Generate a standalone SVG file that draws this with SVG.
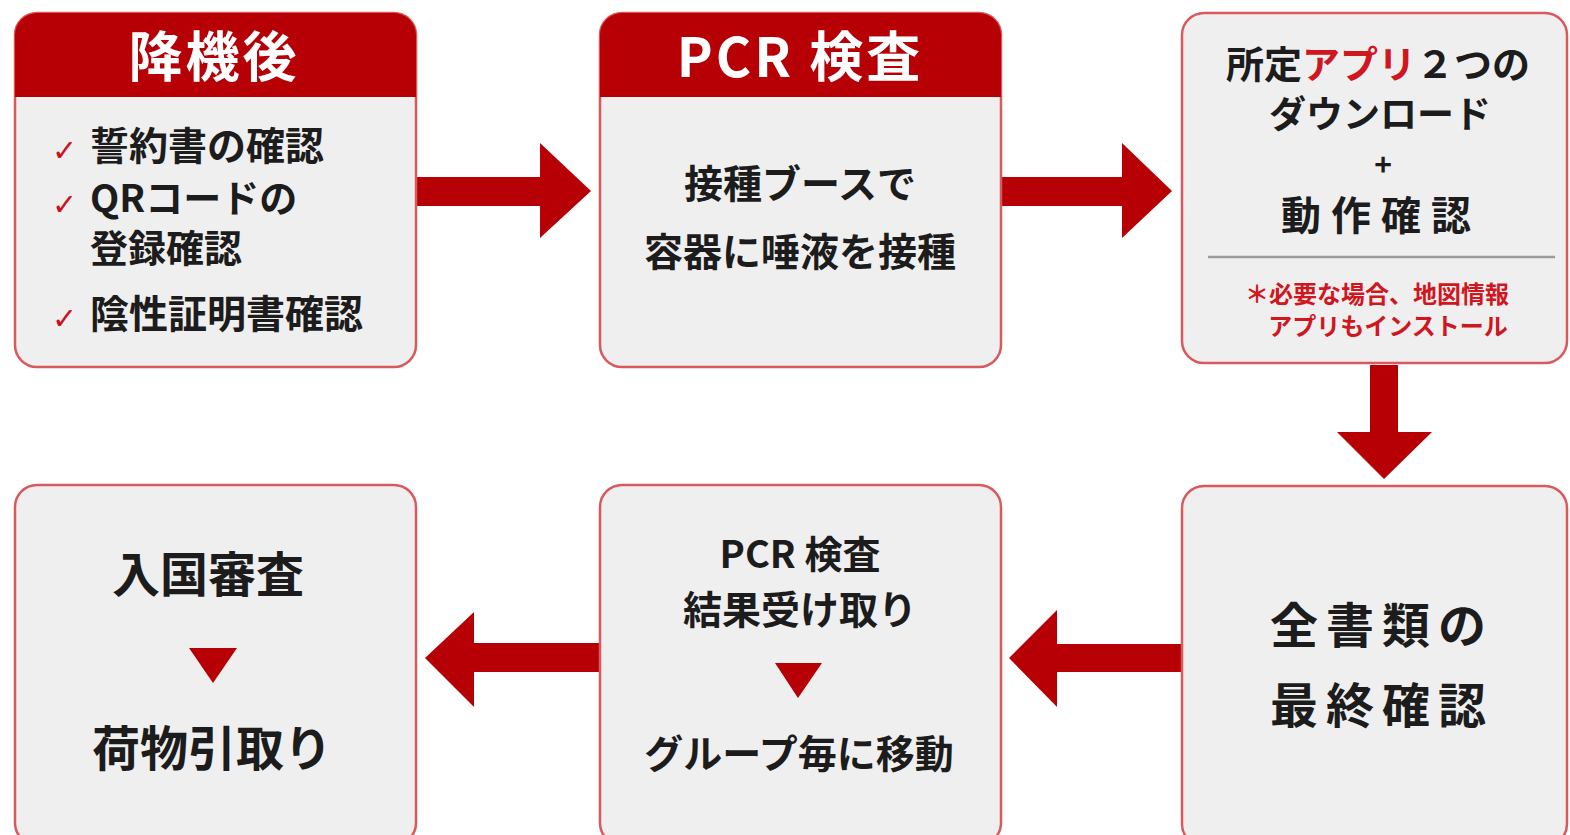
<svg xmlns="http://www.w3.org/2000/svg" width="1570" height="835" viewBox="0 0 1570 835">
<defs>
<style>
.box{fill:#efefef;stroke:#d9595c;stroke-width:2.5}
.hdr{fill:#b60005}
.arr{fill:#b60005}
.t{font-family:"Noto Sans CJK JP","Noto Sans",sans-serif;font-weight:bold;fill:#1c1c1c}
.c{text-anchor:middle}
.ht{font-family:"Noto Sans CJK JP","Noto Sans",sans-serif;font-weight:bold;fill:#ffffff;text-anchor:middle;font-size:54px;letter-spacing:3px}
.chk{font-family:"DejaVu Sans",sans-serif;fill:#c8141c;font-size:30px}
.red{fill:#d0161e}
</style>
</defs>
<rect width="1570" height="835" fill="#ffffff"/>

<g id="connectors">
<path class="arr" d="M415,177 H540 V143 L591,191 L540,238 V206 H415 Z"/>
<path class="arr" d="M1000,177 H1122 V143 L1172,191 L1122,238 V206 H1000 Z"/>
<path class="arr" d="M1370,365 H1398 V432 H1432 L1384,479 L1337,432 H1370 Z"/>
<path class="arr" d="M1182,644 H1057 V610 L1009,658 L1057,707 V672 H1182 Z"/>
<path class="arr" d="M600,643 H474 V612 L425,658 L474,707 V672 H600 Z"/>
</g>

<g id="node-after-landing">
<rect class="box" x="15" y="13" width="401" height="354" rx="22"/>
<path class="hdr" d="M15,97 V35 A22,22 0 0 1 37,13 H394 A22,22 0 0 1 416,35 V97 Z"/>
<text class="ht" x="214" y="77">降機後</text>
<text class="chk" x="52" y="161">✓</text>
<text class="t" x="90" y="160" font-size="39">誓約書の確認</text>
<text class="chk" x="52" y="215">✓</text>
<text class="t" x="90" y="212" font-size="38">QRコードの</text>
<text class="t" x="90" y="262" font-size="38">登録確認</text>
<text class="chk" x="52" y="329">✓</text>
<text class="t" x="90" y="328" font-size="39">陰性証明書確認</text>
</g>

<g id="node-pcr">
<rect class="box" x="600" y="13" width="401" height="354" rx="22"/>
<path class="hdr" d="M600,97 V35 A22,22 0 0 1 622,13 H979 A22,22 0 0 1 1001,35 V97 Z"/>
<text class="ht" x="800" y="77">PCR 検査</text>
<text class="t c" x="800" y="198" font-size="39">接種ブースで</text>
<text class="t c" x="800" y="266" font-size="39">容器に唾液を接種</text>
</g>

<g id="node-apps">
<rect class="box" x="1182" y="13" width="385" height="350" rx="22"/>
<text class="t c" x="1378" y="78" font-size="38">所定<tspan class="red">アプリ</tspan>２つの</text>
<text class="t c" x="1380" y="128" font-size="37">ダウンロード</text>
<text class="t c" x="1383" y="176" font-size="30">+</text>
<text class="t c" x="1381" y="230" font-size="40" letter-spacing="10">動作確認</text>
<line x1="1208" y1="257" x2="1555" y2="257" stroke="#9a9a9a" stroke-width="2.5"/>
<text class="t c red" x="1377" y="303" font-size="24">＊必要な場合、地図情報</text>
<text class="t c red" x="1388" y="335" font-size="24">アプリもインストール</text>
</g>

<g id="node-final-check">
<rect class="box" x="1182" y="486" width="385" height="360" rx="22"/>
<text class="t c" x="1382" y="643" font-size="48" letter-spacing="8">全書類の</text>
<text class="t c" x="1382" y="723" font-size="48" letter-spacing="8">最終確認</text>
</g>

<g id="node-pcr-result">
<rect class="box" x="600" y="485" width="401" height="360" rx="22"/>
<text class="t c" x="800" y="568" font-size="38">PCR 検査</text>
<text class="t c" x="800" y="624" font-size="39">結果受け取り</text>
<path class="arr" d="M775,663 H822 L798,698 Z"/>
<text class="t c" x="799" y="768" font-size="39">グループ毎に移動</text>
</g>

<g id="node-immigration">
<rect class="box" x="15" y="485" width="401" height="360" rx="22"/>
<text class="t c" x="208" y="592" font-size="48">入国審査</text>
<path class="arr" d="M189,648 H237 L213,683 Z"/>
<text class="t c" x="212" y="766" font-size="48">荷物引取り</text>
</g>
</svg>
